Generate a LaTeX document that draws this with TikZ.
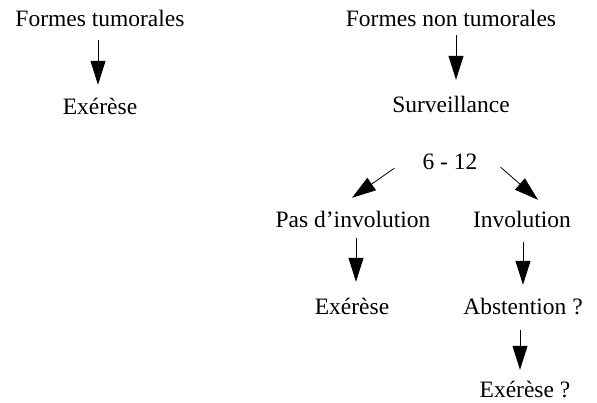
\documentclass[tikz,border=0pt]{standalone}
\usepackage{fontspec}
\setmainfont{Liberation Serif}
\usetikzlibrary{arrows.meta}
\begin{document}
\begin{tikzpicture}[x=1pt,y=1pt,
  lbl/.style={inner sep=0pt,anchor=base,text height=16pt,text depth=0pt,font=\fontsize{23.5}{28}\selectfont},
  arr/.style={draw,line width=0.8pt,-{Triangle[length=24pt,width=15pt]}}]
\useasboundingbox (0,0) rectangle (597,403);
\node[lbl] (ft) at (100,376) {Formes tumorales};
\node[lbl] (ex1) at (100,288) {Exérèse};
\node[lbl] (fnt) at (451,376) {Formes non tumorales};
\node[lbl] (surv) at (451,290) {Surveillance};
\node[lbl] (six) at (450,233) {6 - 12};
\node[lbl] (pas) at (353,175) {Pas d’involution};
\node[lbl] (inv) at (522,175) {Involution};
\node[lbl] (ex2) at (352,88) {Exérèse};
\node[lbl] (abst) at (523,88) {Abstention ?};
\node[lbl] (ex3) at (525,5) {Exérèse ?};
\draw[arr,shorten <=13pt,shorten >=14pt] ([xshift=-2pt]ft.south) -- ([xshift=-2pt]ft.south |- ex1.north);
\draw[arr,shorten <=8pt,shorten >=17pt] ([xshift=5pt]fnt.south) -- ([xshift=5pt]fnt.south |- surv.north);
\draw[arr] ([xshift=-28pt,yshift=2pt]six.south west) -- ([xshift=-1pt,yshift=14pt]pas.north);
\draw[arr] ([xshift=23pt,yshift=3pt]six.south east) -- ([xshift=16pt,yshift=12pt]inv.north);
\draw[arr,shorten <=10pt,shorten >=17pt] ([xshift=3pt]pas.south) -- ([xshift=3pt]pas.south |- ex2.north);
\draw[arr,shorten <=14pt,shorten >=14pt] ([xshift=1pt]inv.south) -- ([xshift=1pt]inv.south |- abst.north);
\draw[arr,shorten <=15pt,shorten >=12pt] ([xshift=-3pt]abst.south) -- ([xshift=-3pt]abst.south |- ex3.north);
\end{tikzpicture}
\end{document}
